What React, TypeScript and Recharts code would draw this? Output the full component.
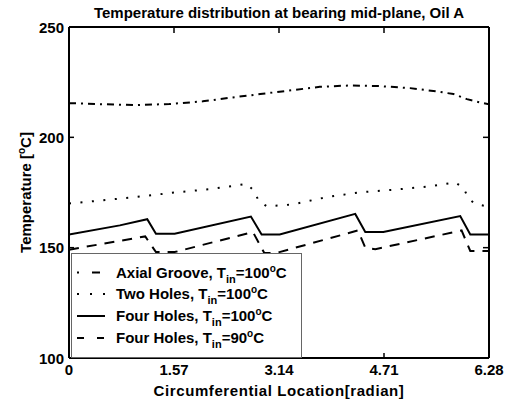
import React from 'react';
import { LineChart, Line, XAxis, YAxis, Legend } from 'recharts';

const xTicks = [0, 1.57, 3.14, 4.71, 6.28];
const yTicks = [100, 150, 200, 250];

const axialX = [0, 0.5, 1.0, 1.5, 2.0, 2.45, 2.86, 3.35, 3.75, 4.2, 4.65, 5.1, 5.5, 5.75, 5.95, 6.15, 6.28];
const axialY = [215.5, 215.0, 214.6, 215.1, 216.3, 218.1, 219.6, 221.4, 222.9, 223.5, 223.2, 222.3, 220.8, 219.6, 217.3, 215.8, 215.0];

const twoX = [0, 0.89, 1.58, 2.11, 2.66, 2.76, 2.84, 2.96, 3.35, 3.85, 4.35, 4.87, 5.4, 5.77, 5.9, 5.97, 6.07, 6.28];
const twoY = [170.0, 172.6, 175.0, 176.5, 178.9, 175.9, 171.1, 168.7, 169.6, 172.9, 175.1, 176.3, 177.8, 179.6, 177.1, 172.4, 169.9, 168.5];

const four100X = [0, 0.76, 1.17, 1.3, 1.58, 2.72, 2.88, 3.15, 4.28, 4.43, 4.7, 5.85, 6.0, 6.28];
const four100Y = [156.0, 160.1, 162.9, 156.3, 156.3, 164.1, 156.0, 156.0, 165.3, 157.1, 157.1, 164.3, 156.0, 156.0];

const four90X = [0, 1.14, 1.3, 1.58, 2.75, 2.92, 3.1, 4.32, 4.43, 4.58, 5.87, 6.0, 6.28];
const four90Y = [149.1, 155.1, 148.0, 148.0, 157.1, 147.6, 147.6, 157.8, 150.0, 149.3, 157.8, 148.5, 148.5];

const toPoints = (xs: number[], ys: number[]) => xs.map((x, i) => ({ x, y: ys[i] }));

const axialData = toPoints(axialX, axialY);
const twoData = toPoints(twoX, twoY);
const four100Data = toPoints(four100X, four100Y);
const four90Data = toPoints(four90X, four90Y);

const FONT = '"Liberation Sans", Arial, Helvetica, sans-serif';
const FS = 15;
const TW = 1.5;

const BottomTick = (props: any) => {
  const { x, y, payload } = props;
  return (
    <g>
      <line x1={x} y1={y} x2={x} y2={y - 5} stroke="#000" strokeWidth={TW} />
      <text x={x} y={y + 17} textAnchor="middle" fontFamily={FONT} fontWeight="bold" fontSize={FS} fill="#000">
        {String(payload.value)}
      </text>
    </g>
  );
};

const TopTick = (props: any) => {
  const { x, y } = props;
  return <line x1={x} y1={y + 1} x2={x} y2={y + 6} stroke="#000" strokeWidth={TW} />;
};

const LeftTick = (props: any) => {
  const { x, y, payload } = props;
  return (
    <g>
      <line x1={x} y1={y} x2={x + 5} y2={y} stroke="#000" strokeWidth={TW} />
      <text x={x - 5} y={y + 5.5} textAnchor="end" fontFamily={FONT} fontWeight="bold" fontSize={FS} fill="#000">
        {String(payload.value)}
      </text>
    </g>
  );
};

const RightTick = (props: any) => {
  const { x, y } = props;
  return <line x1={x - 1} y1={y} x2={x - 6} y2={y} stroke="#000" strokeWidth={TW} />;
};

const TitleLabel = (props: any) => {
  const vb = props.viewBox || {};
  return (
    <text x={vb.x + vb.width / 2} y={18} textAnchor="middle" fontFamily={FONT} fontWeight="bold" fontSize={FS} fill="#000">
      Temperature distribution at bearing mid-plane, Oil A
    </text>
  );
};

const XLabel = (props: any) => {
  const vb = props.viewBox || {};
  return (
    <text
      x={vb.x + vb.width / 2}
      y={396}
      textAnchor="middle"
      fontFamily={FONT}
      fontWeight="bold"
      fontSize={FS}
      letterSpacing={0.6}
      fill="#000"
    >
      Circumferential Location[radian]
    </text>
  );
};

const YLabel = (props: any) => {
  const vb = props.viewBox || {};
  const cy = vb.y + vb.height / 2;
  const cx = 31;
  return (
    <text
      x={cx}
      y={cy}
      transform={`rotate(-90 ${cx} ${cy})`}
      textAnchor="middle"
      fontFamily={FONT}
      fontWeight="bold"
      fontSize={FS}
      fill="#000"
    >
      <tspan>Temperature [</tspan>
      <tspan fontSize={10} dy={-6}>o</tspan>
      <tspan dy={6}>C]</tspan>
    </text>
  );
};

type Entry = { name: string; sub: string; val: string; dash?: string };
const legendEntries: Entry[] = [
  { name: 'Axial Groove, T', sub: 'in', val: '=100', dash: 'axial' },
  { name: 'Two Holes, T', sub: 'in', val: '=100', dash: 'dot' },
  { name: 'Four Holes, T', sub: 'in', val: '=100', dash: 'solid' },
  { name: 'Four Holes, T', sub: 'in', val: '=90', dash: 'dash' },
];

const sampleDash: Record<string, string | undefined> = {
  axial: '2 13 8 40',
  dot: '2 11',
  solid: undefined,
  dash: '7 13',
};

const LegendBox = () => {
  const rows = [19.5, 41, 63, 85];
  return (
    <svg width={231} height={105} style={{ display: 'block' }}>
      <rect x={0.5} y={0.5} width={230} height={104} fill="#fff" stroke="#666" strokeWidth={1} />
      {legendEntries.map((e, i) => (
        <g key={i}>
          <line
            x1={6}
            y1={rows[i]}
            x2={34}
            y2={rows[i]}
            stroke="#000"
            strokeWidth={2}
            strokeDasharray={sampleDash[e.dash || 'solid']}
          />
          <text x={45} y={rows[i] + 5} fontFamily={FONT} fontWeight="bold" fontSize={FS} fill="#000">
            <tspan>{e.name}</tspan>
            <tspan fontSize={11} dy={5}>{e.sub}</tspan>
            <tspan dy={-5}>{e.val}</tspan>
            <tspan fontSize={10} dy={-6}>o</tspan>
            <tspan dy={6}>C</tspan>
          </text>
        </g>
      ))}
    </svg>
  );
};

export default function App() {
  return (
    <div style={{ position: 'absolute', left: 0, top: 0, width: 508, height: 403, background: '#fff' }}>
      <LineChart width={508} height={403} margin={{ top: 26, right: 18, left: 0, bottom: 0 }}>
        <XAxis
          xAxisId="bottom"
          dataKey="x"
          type="number"
          domain={[0, 6.28]}
          ticks={xTicks}
          allowDataOverflow
          height={45}
          tickSize={0}
          tickMargin={0}
          tickLine={false}
          tick={<BottomTick />}
          axisLine={{ stroke: '#000', strokeWidth: 2 }}
          label={<XLabel />}
        />
        <XAxis
          xAxisId="top"
          orientation="top"
          dataKey="x"
          type="number"
          domain={[0, 6.28]}
          ticks={xTicks}
          allowDataOverflow
          height={1}
          tickSize={0}
          tickMargin={0}
          tickLine={false}
          tick={<TopTick />}
          axisLine={{ stroke: '#000', strokeWidth: 2 }}
          label={<TitleLabel />}
        />
        <YAxis
          yAxisId="left"
          type="number"
          domain={[100, 250]}
          ticks={yTicks}
          allowDataOverflow
          width={69}
          tickSize={0}
          tickMargin={0}
          tickLine={false}
          tick={<LeftTick />}
          axisLine={{ stroke: '#000', strokeWidth: 2 }}
          label={<YLabel />}
        />
        <YAxis
          yAxisId="right"
          orientation="right"
          type="number"
          domain={[100, 250]}
          ticks={yTicks}
          allowDataOverflow
          width={1}
          tickSize={0}
          tickMargin={0}
          tickLine={false}
          tick={<RightTick />}
          axisLine={{ stroke: '#000', strokeWidth: 2 }}
        />
        <Line
          xAxisId="bottom"
          yAxisId="left"
          data={axialData}
          dataKey="y"
          name="Axial Groove"
          stroke="#000"
          strokeWidth={2}
          strokeDasharray="7 5 2 5"
          dot={false}
          activeDot={false}
          type="linear"
          isAnimationActive={false}
        />
        <Line
          xAxisId="bottom"
          yAxisId="left"
          data={twoData}
          dataKey="y"
          name="Two Holes"
          stroke="#000"
          strokeWidth={2}
          strokeDasharray="2 9.5"
          dot={false}
          activeDot={false}
          type="linear"
          isAnimationActive={false}
        />
        <Line
          xAxisId="bottom"
          yAxisId="left"
          data={four100Data}
          dataKey="y"
          name="Four Holes 100"
          stroke="#000"
          strokeWidth={2}
          dot={false}
          activeDot={false}
          type="linear"
          isAnimationActive={false}
        />
        <Line
          xAxisId="bottom"
          yAxisId="left"
          data={four90Data}
          dataKey="y"
          name="Four Holes 90"
          stroke="#000"
          strokeWidth={2}
          strokeDasharray="10 8"
          dot={false}
          activeDot={false}
          type="linear"
          isAnimationActive={false}
        />
        <Legend
          layout="horizontal"
          verticalAlign="middle"
          align="center"
          content={<LegendBox />}
          wrapperStyle={{ position: 'absolute', left: 71, top: 253, width: 231, height: 105, margin: 0, padding: 0 }}
        />
      </LineChart>
    </div>
  );
}
